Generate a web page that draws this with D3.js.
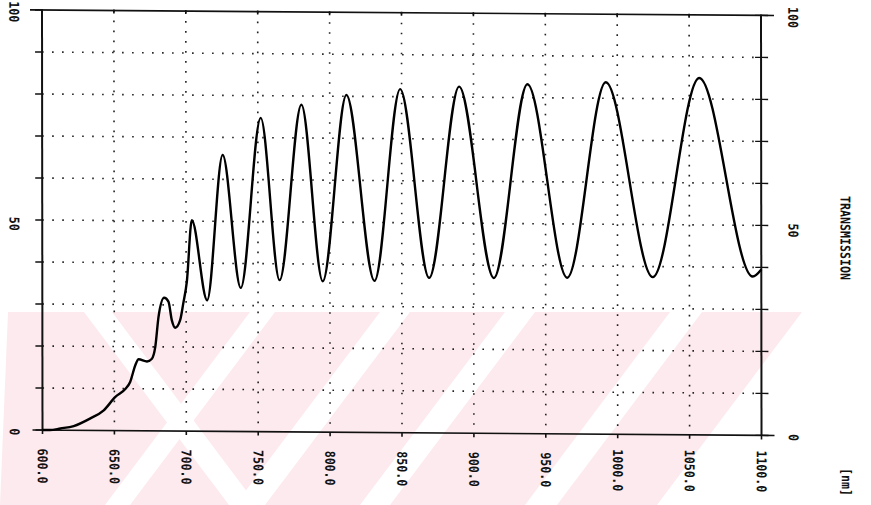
<!DOCTYPE html>
<html>
<head>
<meta charset="utf-8">
<script src="https://cdn.jsdelivr.net/npm/d3@7"></script>
<style>
  body { margin: 0; background: #fff; }
  svg { display: block; }
  text { font-family: "DejaVu Sans Mono", monospace; font-weight: bold; fill: #111; }
</style>
</head>
<body>
<svg id="chart" width="871" height="505"></svg>
<script>
// values
const wavelength = [600, 605, 612.5, 621.7, 633, 642.6, 650.7, 657.6, 661, 664.6, 666.9, 672.7, 676, 678.5,
  680.8, 684.7, 687.7, 690, 692.4, 695.8, 698, 700.5, 704, 714.6, 725.5, 738, 752, 765, 780.3, 795,
  811.6, 831, 849, 869, 890, 914, 937.5, 965, 992, 1024.5, 1057, 1094, 1100];
const transmission = [0, 0, 0.4, 1.0, 2.8, 4.8, 8.0, 9.9, 11.6, 15.6, 17.0, 16.5, 17.1, 20,
  27.2, 31.7, 30.8, 26.4, 24.6, 26.4, 30.4, 35.6, 50.2, 31.2, 65.8, 34.2, 74.7, 36.1, 77.9, 35.9,
  80.3, 36.1, 81.8, 36.9, 82.5, 37.0, 83.2, 37.2, 83.8, 37.5, 85.0, 37.8, 39.5];
const xTicks = [600, 650, 700, 750, 800, 850, 900, 950, 1000, 1050, 1100];
const yGrid = [0, 10, 20, 30, 40, 50, 60, 70, 80, 90, 100];
const yLabels = [0, 50, 100];
const yTitle = "TRANSMISSION";
const xUnit = "[nm]";

const svg = d3.select("#chart");
const W = 719, H = 420;

// faint pink scan watermark (behind everything): pink band with white diagonal gaps
const wm = svg.append("g");
wm.append("polygon").attr("points", "8,312 802,312 657,505 0,505").attr("fill", "#fdeaee");
const gaps = [
  [[84,312],[112,312],[257,505],[229,505]],
  [[250,312],[275,312],[130,505],[105,505]],
  [[380,312],[410,312],[265,505],[235,505]],
  [[505,312],[535,312],[390,505],[360,505]],
  [[670,312],[702,312],[557,505],[525,505]]
];
wm.selectAll("polygon.gap").data(gaps).join("polygon").attr("class", "gap")
  .attr("points", d => d.map(p => p.join(",")).join(" "))
  .attr("fill", "#fff");

const x = d3.scaleLinear().domain([600, 1100]).range([0, W]);
const y = d3.scaleLinear().domain([0, 100]).range([H, 0]);

// the scan is slightly skewed
const g = svg.append("g").attr("transform", "matrix(1,0.0075,0.0012,1,42,10)");

// dotted grid
g.append("g").selectAll("line").data(yGrid.slice(1, -1)).join("line")
  .attr("x1", 0).attr("x2", W).attr("y1", d => y(d)).attr("y2", d => y(d))
  .attr("stroke", "#222").attr("stroke-width", 1.6).attr("stroke-dasharray", "1.6,8.4");
g.append("g").selectAll("line").data(xTicks.slice(1, -1)).join("line")
  .attr("x1", d => x(d)).attr("x2", d => x(d)).attr("y1", 0).attr("y2", H)
  .attr("stroke", "#222").attr("stroke-width", 1.6).attr("stroke-dasharray", "1.6,8.4");

// frame
g.append("line").attr("x1", -12).attr("x2", W + 13).attr("y1", 0).attr("y2", 0)
  .attr("stroke", "#111").attr("stroke-width", 1.6);
g.append("line").attr("x1", -10).attr("x2", W + 13).attr("y1", H).attr("y2", H)
  .attr("stroke", "#111").attr("stroke-width", 1.6);
g.append("line").attr("x1", 0).attr("x2", 0).attr("y1", 0).attr("y2", H)
  .attr("stroke", "#111").attr("stroke-width", 2);
g.append("line").attr("x1", W).attr("x2", W).attr("y1", 0).attr("y2", H)
  .attr("stroke", "#111").attr("stroke-width", 2);

// ticks
g.append("g").selectAll("line").data(yGrid).join("line")
  .attr("x1", -7).attr("x2", 0).attr("y1", d => y(d)).attr("y2", d => y(d))
  .attr("stroke", "#111").attr("stroke-width", 1.4);
g.append("g").selectAll("line").data(yGrid).join("line")
  .attr("x1", W - 6).attr("x2", W + 7).attr("y1", d => y(d)).attr("y2", d => y(d))
  .attr("stroke", "#111").attr("stroke-width", 1.4);
g.append("g").selectAll("line").data(xTicks).join("line")
  .attr("x1", d => x(d)).attr("x2", d => x(d)).attr("y1", H).attr("y2", H + 4)
  .attr("stroke", "#111").attr("stroke-width", 1.6);
g.append("g").selectAll("line").data(xTicks).join("line")
  .attr("x1", d => x(d)).attr("x2", d => x(d)).attr("y1", -1).attr("y2", 3)
  .attr("stroke", "#111").attr("stroke-width", 1.6);

// curve
const pts = wavelength.map((w, i) => [w, transmission[i]]);
g.append("path").datum(pts)
  .attr("fill", "none").attr("stroke", "#000").attr("stroke-width", 2.4)
  .attr("stroke-linejoin", "round")
  .attr("d", d3.line().x(d => x(d[0])).y(d => y(d[1])).curve(d3.curveMonotoneX));

// rotated labels (narrow, tall glyphs like the plotter font)
const rot = (sel, px, py) => sel.attr("transform", `translate(${px},${py}) rotate(90) scale(0.86,1)`)
  .attr("text-anchor", "middle").attr("dominant-baseline", "central").attr("font-size", 13.5);

g.append("g").selectAll("text").data(xTicks).join("text")
  .each(function(d) { rot(d3.select(this), x(d), H + 36); })
  .text(d => d3.format(".1f")(d));
g.append("g").selectAll("text").data(yLabels).join("text")
  .each(function(d) { rot(d3.select(this), -28, y(d) + (d === 50 ? 4 : 2)); })
  .text(d => d);
g.append("g").selectAll("text").data(yLabels).join("text")
  .each(function(d) { rot(d3.select(this), W + 32, y(d) + (d === 50 ? 5 : 2)); })
  .text(d => d);
rot(g.append("text"), W + 84, 222).text(yTitle);
rot(g.append("text"), W + 85, 466).text(xUnit);
</script>
</body>
</html>
